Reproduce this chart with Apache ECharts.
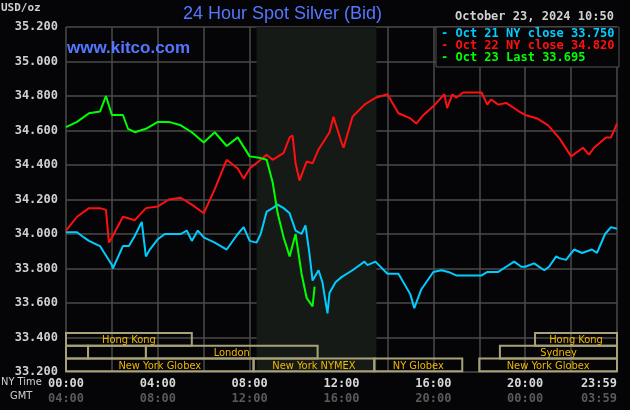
<!DOCTYPE html>
<html><head><meta charset="utf-8">
<script src="https://cdn.jsdelivr.net/npm/echarts@6/dist/echarts.min.js"></script>
<style>html,body{margin:0;padding:0;background:#050508}#c{width:630px;height:410px}</style>
</head><body><div id="c"></div>
<script>
// Hours (NY time) and prices
const oct21Hours = [0,0.48,0.78,1.0,1.48,2.0,2.04,2.48,2.74,3.0,3.3,3.48,3.65,4.0,4.3,4.48,5.0,5.26,5.48,5.74,6.0,6.48,7.0,7.48,7.74,8.0,8.3,8.48,8.74,9.0,9.22,9.48,9.74,10.0,10.26,10.43,10.6,10.74,11.0,11.17,11.39,11.48,11.74,12.0,12.48,13.0,13.13,13.48,14.0,14.48,15.0,15.17,15.48,16.0,16.35,16.65,17.0,18.1,18.36,18.83,19.17,19.52,19.83,20.0,20.39,20.83,21.04,21.35,21.48,21.78,22.13,22.48,22.91,23.13,23.48,23.74,24.0];
const oct21Vals  = [34.01,34.01,33.98,33.96,33.93,33.82,33.80,33.93,33.93,33.99,34.07,33.87,33.91,33.97,34.00,34.00,34.00,34.02,33.96,34.02,33.98,33.95,33.91,34.00,34.04,33.96,33.95,34.00,34.13,34.15,34.17,34.15,34.12,34.02,34.00,34.05,33.89,33.73,33.79,33.72,33.54,33.66,33.72,33.75,33.79,33.84,33.82,33.84,33.77,33.77,33.65,33.57,33.68,33.78,33.79,33.78,33.76,33.76,33.78,33.78,33.81,33.84,33.81,33.81,33.83,33.79,33.81,33.87,33.86,33.85,33.91,33.89,33.91,33.89,34.00,34.04,34.03];
const oct22Hours = [0,0.48,1.0,1.48,1.74,1.87,2.0,2.48,3.0,3.48,4.0,4.48,5.0,5.48,6.0,6.48,7.0,7.48,7.74,8.0,8.48,8.74,9.0,9.48,9.74,9.87,10.0,10.17,10.48,10.74,11.0,11.48,11.65,12.0,12.09,12.48,13.0,13.48,14.0,14.48,15.0,15.26,15.57,16.0,16.48,16.6,16.83,17.0,17.3,18.1,18.35,18.52,18.83,19.17,19.74,20.0,20.52,21.0,21.52,22.0,22.52,22.78,23.0,23.52,23.74,24.0];
const oct22Vals  = [34.02,34.10,34.15,34.15,34.14,33.95,33.98,34.10,34.08,34.15,34.16,34.20,34.21,34.17,34.12,34.26,34.43,34.38,34.32,34.38,34.43,34.46,34.43,34.47,34.56,34.57,34.41,34.31,34.42,34.41,34.49,34.59,34.68,34.53,34.50,34.68,34.75,34.79,34.81,34.70,34.67,34.64,34.69,34.74,34.81,34.73,34.81,34.79,34.82,34.82,34.75,34.78,34.75,34.76,34.71,34.69,34.67,34.63,34.55,34.45,34.50,34.46,34.50,34.56,34.56,34.64];
const oct23Hours = [0,0.48,1.0,1.48,1.74,2.0,2.48,2.7,3.0,3.48,4.0,4.48,5.0,5.48,6.0,6.48,7.0,7.48,8.0,8.48,8.74,9.0,9.22,9.48,9.74,10.0,10.26,10.48,10.74,10.83];
const oct23Vals  = [34.62,34.65,34.70,34.71,34.80,34.69,34.69,34.61,34.59,34.61,34.65,34.65,34.63,34.59,34.53,34.59,34.51,34.56,34.45,34.44,34.43,34.30,34.12,33.98,33.87,34.00,33.77,33.63,33.58,33.695];
const yTicks = ['33.200','33.400','33.600','33.800','34.000','34.200','34.400','34.600','34.800','35.000','35.200'];
const nyLabels = {0:'00:00',4:'04:00',8:'08:00',12:'12:00',16:'16:00',20:'20:00',24:'23:59'};
const gmtLabels = {0:'04:00',4:'08:00',8:'12:00',12:'16:00',16:'20:00',20:'00:00',24:'03:59'};
const legendTexts = ['Oct 21 NY close 33.750','Oct 22 NY close 34.820','Oct 23 Last 33.695'];
// sessions: [start hour, end hour, row, label]
const sessions = [[0,5.48,0,'Hong Kong'],[20.43,24,0,'Hong Kong'],[0,0.96,1,''],[0.96,3.48,1,''],[3.48,10.96,1,'London'],[18.9,24,1,'Sydney'],[0,8.17,2,'New York Globex'],[8.17,13.43,2,'New York NYMEX'],[13.43,17.26,2,'NY Globex'],[18.0,24,2,'New York Globex']];
const shade = [8.3,13.52];

const mono = '"DejaVu Sans Mono", monospace';
const colors = ['#00ccff','#ff1010','#00ff00'];
const zip = (h,v)=>h.map((x,i)=>[x,v[i]]);
const rowTop = [33.426,33.352,33.278], rowH = 0.074;
const chart = echarts.init(document.getElementById('c'));
chart.setOption({
  backgroundColor:'#050508',
  animation:false,
  grid:{left:66,right:13,top:27,bottom:38,containLabel:false,outerBoundsMode:'none'},
  xAxis:{type:'value',min:0,max:24,interval:2,
    axisLine:{show:false},axisTick:{show:false},
    splitLine:{lineStyle:{color:'#4a4a4a',width:1.5}},
    axisLabel:{margin:4,interval:0,showMaxLabel:true,hideOverlap:false,alignMaxLabel:'right',
      formatter:v=>nyLabels[v]!==undefined?'{a|'+nyLabels[v]+'}\n{b|'+gmtLabels[v]+'}':'',
      rich:{a:{fontFamily:mono,fontSize:12,fontWeight:'bold',color:'#d8d8d8',lineHeight:15},
            b:{fontFamily:mono,fontSize:12,fontWeight:'bold',color:'#5a5a5a',lineHeight:15}}}},
  yAxis:{type:'value',min:33.2,max:35.2,interval:0.2,
    axisLine:{show:false},axisTick:{show:false},
    splitLine:{lineStyle:{color:'#4a4a4a',width:1.5}},
    axisLabel:{fontFamily:mono,fontSize:12,fontWeight:'bold',color:'#d0d0d0',margin:8,showMaxLabel:true,
      formatter:v=>yTicks[Math.round((v-33.2)/0.2)]}},
  graphic:[
    {type:'text',left:1,top:3,style:{text:'USD/oz',fontFamily:mono,fontSize:11,fontWeight:'bold',fill:'#d0d0d0'}},
    {type:'text',left:183,top:5,style:{text:'24 Hour Spot Silver (Bid)',fontFamily:'"Liberation Sans",sans-serif',fontSize:18,fill:'#5577ff'}},
    {type:'text',left:67,top:40,z:10,style:{text:'www.kitco.com',fontFamily:'"Liberation Sans",sans-serif',fontSize:17,fontWeight:'bold',fill:'#5577ff'}},
    {type:'text',left:455,top:11,style:{text:'October 23, 2024 10:50',fontFamily:mono,fontSize:12,fontWeight:'bold',fill:'#d0d0d0'}},
    {type:'rect',shape:{x:436,y:27,width:183,height:40},z:10,style:{fill:'#050508',stroke:'#555',lineWidth:1}},
    ...legendTexts.map((t,i)=>({type:'text',left:441,top:28+i*12,z:11,style:{text:'- '+t,fontFamily:mono,fontSize:12,fontWeight:'bold',fill:colors[i]}})),
    {type:'text',left:1,top:377,style:{text:'NY Time',fontFamily:'"DejaVu Sans Condensed",sans-serif',fontSize:11,fill:'#d0d0d0'}},
    {type:'text',left:10,top:391,style:{text:'GMT',fontFamily:'"DejaVu Sans Condensed",sans-serif',fontSize:11,fill:'#d0d0d0'}}
  ],
  series:[
    {type:'line',data:zip(oct21Hours,oct21Vals),showSymbol:false,lineStyle:{color:colors[0],width:2},z:3,
     markArea:{silent:true,itemStyle:{color:'#161a16'},data:[[{xAxis:shade[0]},{xAxis:shade[1]}]]}},
    {type:'line',data:zip(oct22Hours,oct22Vals),showSymbol:false,lineStyle:{color:colors[1],width:2},z:3},
    {type:'line',data:zip(oct23Hours,oct23Vals),showSymbol:false,lineStyle:{color:colors[2],width:2},z:4},
    {type:'custom',z:5,data:sessions,renderItem:(p,api)=>{
      const s=sessions[p.dataIndex];
      const a=api.coord([s[0],rowTop[s[2]]]), b=api.coord([s[1],rowTop[s[2]]-rowH]);
      return {type:'group',children:[
        {type:'rect',shape:{x:a[0],y:a[1],width:b[0]-a[0],height:b[1]-a[1]},style:{fill:'transparent',stroke:'#a8a27a',lineWidth:2}},
        {type:'text',style:{text:s[3],x:(a[0]+b[0])/2,y:(a[1]+b[1])/2+1,align:'center',verticalAlign:'middle',fontFamily:'"DejaVu Sans Condensed",sans-serif',fontSize:11,fill:'#f0b800'}}
      ]};
    }}
  ]
});
</script></body></html>
